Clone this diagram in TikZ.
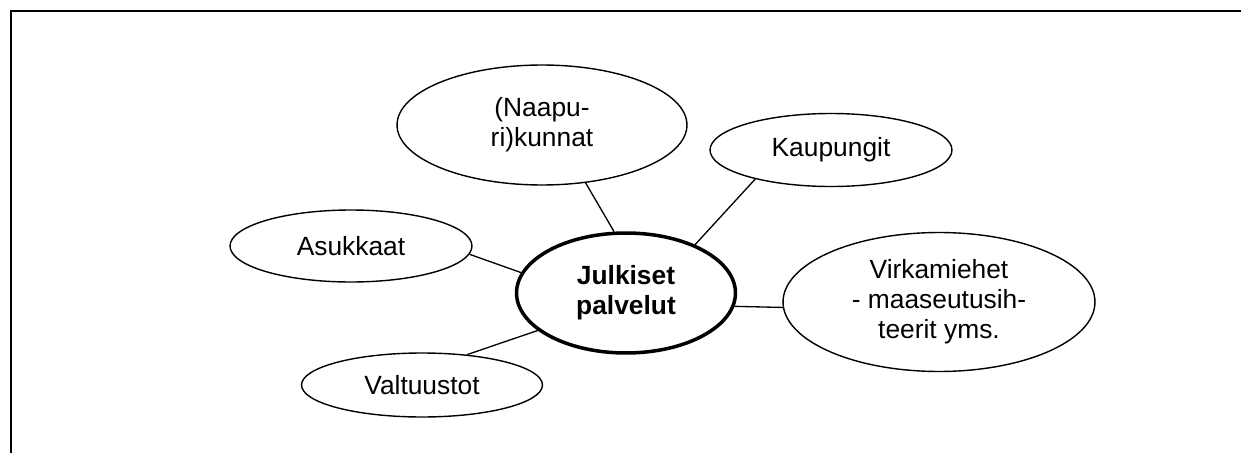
\documentclass[tikz,border=0pt]{standalone}
\usepackage{fontspec}
\setmainfont{Liberation Sans}
\usetikzlibrary{shapes.geometric}
\tikzset{>=stealth}
\tikzset{kupla/.style={ellipse, draw, line width=0.8pt, inner sep=0pt, align=center, font=\fontsize{15}{17}\selectfont}}

\begin{document}
\begin{tikzpicture}[x=0.02cm, y=-0.02cm]
    \useasboundingbox (0,0) rectangle (1241,453);
    \draw[line width=1.4pt] (11,453) -- (11,11) -- (1241,11);
    \node[kupla, line width=2pt, font=\fontsize{15}{17}\selectfont\bfseries, minimum width=4.38cm, minimum height=2.4cm] (julkiset) at (626,293) {Julkiset\\palvelut};
    \node[kupla, minimum width=5.8cm, minimum height=2.4cm] (naapuri) at (542,125) {(Naapu-\\ri)kunnat};
    \node[kupla, minimum width=4.84cm, minimum height=1.46cm] (kaupungit) at (831,150) {Kaupungit};
    \node[kupla, minimum width=4.84cm, minimum height=1.44cm] (asukkaat) at (351,246) {Asukkaat};
    \node[kupla, minimum width=6.24cm, minimum height=2.78cm] (virka) at (939,302) {Virkamiehet\\- maaseutusih-\\teerit yms.};
    \node[kupla, minimum width=4.82cm, minimum height=1.28cm] (valtuustot) at (422,385) {Valtuustot};
    \draw[line width=0.75pt] (naapuri.-53) -- (julkiset.101);
    \draw[line width=0.75pt] (kaupungit.-159) -- (julkiset.35);
    \draw[line width=0.75pt] (asukkaat.-4) -- (julkiset.169);
    \draw[line width=0.75pt] (valtuustot.34) -- (julkiset.-157);
    \draw[line width=0.75pt] (julkiset.-7) -- (virka.182);
\end{tikzpicture}
\end{document}
